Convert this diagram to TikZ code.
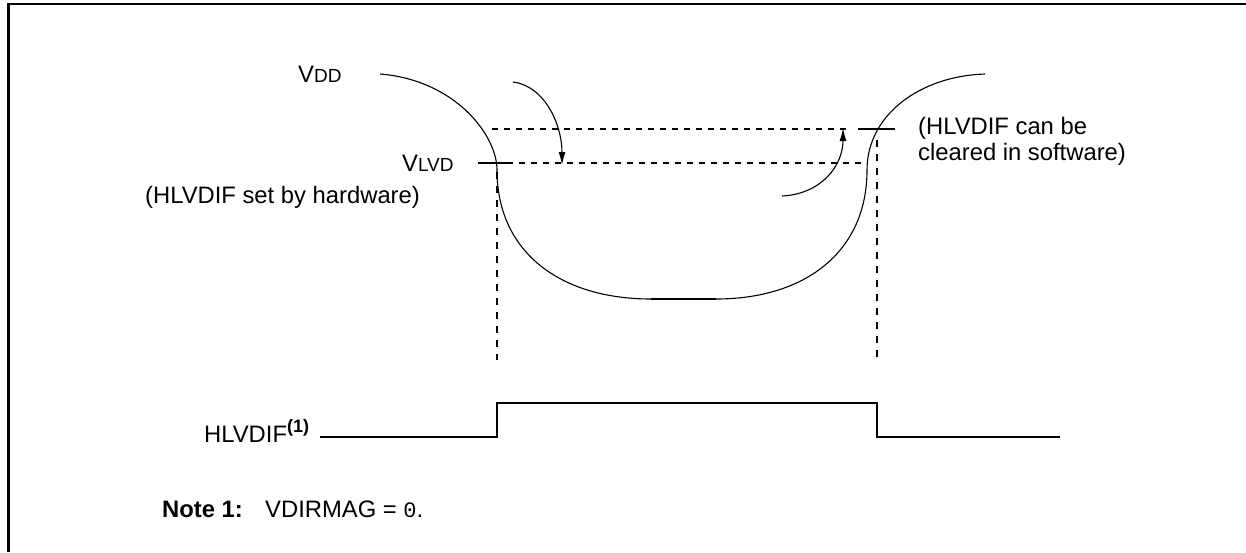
\documentclass[tikz,border=0pt]{standalone}
\usepackage{fontspec}
\setmainfont{Liberation Sans}
\setmonofont{Liberation Mono}
\usetikzlibrary{arrows.meta}
\newcommand{\bigtxt}{\fontsize{23.8}{27}\selectfont}
\newcommand{\smtxt}{\fontsize{19}{22}\selectfont}
\tikzset{
  lbl/.style={inner sep=0pt, anchor=base west, font=\bigtxt},
  curve/.style={line width=1.1pt},
  tick/.style={line width=2.6pt},
  dotl/.style={line width=2pt, dash pattern=on 6pt off 6pt},
  vdash/.style={line width=2pt, dash pattern=on 7pt off 7pt},
  sig/.style={line width=2.6pt, line join=miter},
  arr/.style={line width=1.1pt, -{Latex[length=13pt,width=7pt]}},
  frame/.style={line width=2.5pt}
}
\begin{document}
\begin{tikzpicture}[x=1pt,y=-1pt]
\useasboundingbox (0,0) rectangle (1246,552);
% frame
\coordinate (fbl) at (8.5,552);
\coordinate (ftl) at (8.5,4);
\coordinate (ftr) at (1246,4);
\draw[frame] (fbl) -- (ftl) -- (ftr);

% labels
\node[lbl] (vdd) at (298,82) {V{\smtxt DD}};
\node[lbl] (vlvd) at (402,171) {V{\smtxt LVD}};
\node[lbl] (hw) at (145,203) {(HLVDIF set by hardware)};
\node[lbl, align=left, anchor=north west] (sw) at (918,117) {(HLVDIF can be\\[-1pt]cleared in software)};
\node[lbl] (hl) at (204,442) {HLVDIF\textsuperscript{\bfseries\fontsize{18}{20}\selectfont (1)}};
\node[lbl] (note) at (162,517) {\bfseries Note 1:};
\node[lbl] (vdir) at (265,517) {VDIRMAG = {\ttfamily\fontsize{22}{26}\selectfont 0}.};

% curve coordinates
\coordinate (c0) at (380,74);
\coordinate (c1) at (497,170);
\coordinate (c2) at (651,299);
\coordinate (c3) at (716,299);
\coordinate (c4) at (867,170);
\coordinate (c5) at (985,74);
\draw[curve] (c0) .. controls (455,80) and (497,135) .. (c1)
  .. controls (497,252) and (560,299) .. (c2) -- (c3)
  .. controls (805,299) and (867,252) .. (c4)
  .. controls (867,115) and (920,76) .. (c5);
\draw[line width=2.2pt] (c2) -- (c3);

% level lines
\coordinate (u0) at (492,129);
\coordinate (u1) at (850,129);
\coordinate (ut0) at (858,129);
\coordinate (ut1) at (895,129);
\coordinate (l0) at (478,163);
\coordinate (l1) at (513,163);
\coordinate (l2) at (867,163);
\draw[dotl] (u0) -- (u1);
\draw[tick] (ut0) -- (ut1);
\draw[tick] (l0) -- (l1);
\draw[dotl] (l1) ++(6,0) -- (l2);

% vertical dashed
\coordinate (vl0) at (497,172);
\coordinate (vl1) at (497,360);
\coordinate (vr0) at (877,140);
\coordinate (vr1) at (877,360);
\draw[vdash] (vl0) -- (vl1);
\draw[vdash] (vr0) -- (vr1);

% arrows
\coordinate (a0) at (513,82);
\coordinate (a1) at (562,165);
\coordinate (b0) at (782,196);
\coordinate (b1) at (843,128);
\draw[arr] (a0) .. controls (545,86) and (562,125) .. (a1);
\draw[arr] (b0) .. controls (822,194) and (843,165) .. (b1);

% signal
\coordinate (s0) at (320,437);
\coordinate (s1) at (497,437);
\coordinate (s2) at (497,403);
\coordinate (s3) at (877,403);
\coordinate (s4) at (877,437);
\coordinate (s5) at (1060,437);
\draw[sig] (s0) -- (s1) -- (s2) -- (s3) -- (s4) -- (s5);
\end{tikzpicture}
\end{document}
